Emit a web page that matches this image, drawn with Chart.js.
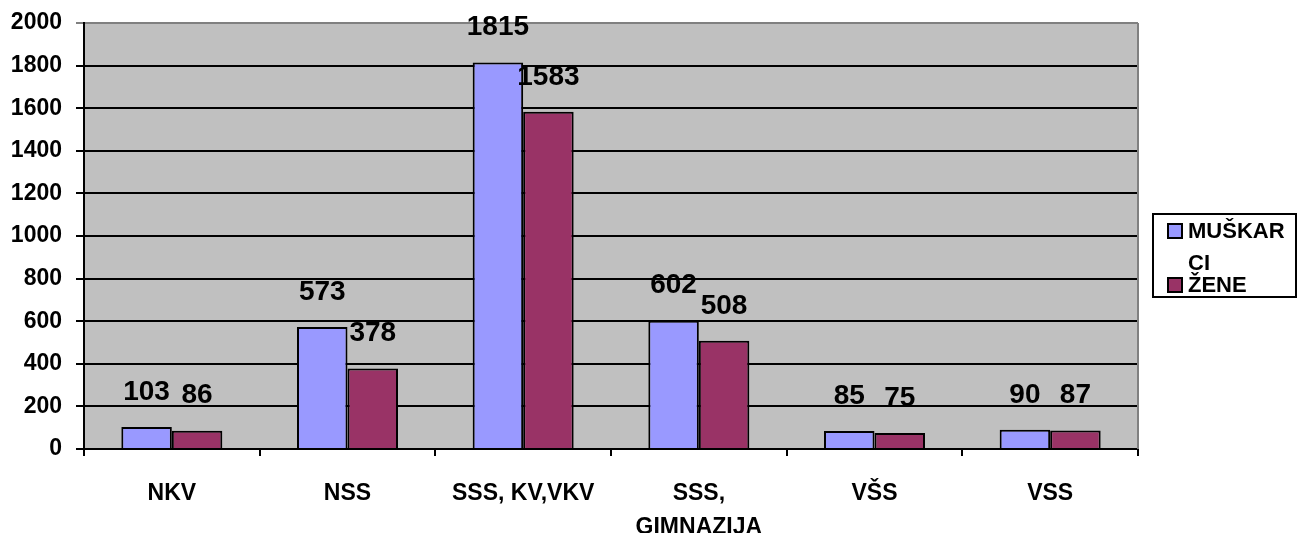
<!DOCTYPE html>
<html>
<head>
<meta charset="utf-8">
<script src="https://cdn.jsdelivr.net/npm/chart.js@4"></script>
<style>
    body { margin: 0; background: #fff; }
    #wrap { position: relative; width: 1307px; height: 533px; }
    #legend {
        position: absolute; left: 1152px; top: 213px; width: 145px; height: 85px;
        box-sizing: border-box; border: 2px solid #000; background: #fff;
        font-family: "Liberation Sans", Arial, sans-serif; font-weight: bold; font-size: 22px;
    }
    .item { position: absolute; left: 0; line-height: 32px; }
    .swatch { position: absolute; left: 13px; top: 8px; width: 16px; height: 16px; box-sizing: border-box; border: 2px solid #000; }
    .txt { position: absolute; left: 34px; width: 104px; word-break: break-all; }
</style>
</head>
<body>
<div id="wrap">
    <canvas id="chart" width="1307" height="533"></canvas>
    <div id="legend"></div>
</div>
<script>
const categories = ['NKV', 'NSS', 'SSS, KV,VKV', ['SSS,', 'GIMNAZIJA'], 'VŠS', 'VSS'];
const seriesNames = ['MUŠKARCI', 'ŽENE'];
const muskarci = [103, 573, 1815, 602, 85, 90];
const zene = [86, 378, 1583, 508, 75, 87];
const yTicksMax = 2000;
const yTicksStep = 200;

const colors = ['#9999FF', '#993366'];
const FONT = '"Liberation Sans", Arial, sans-serif';

// pozadina i okvir područja grafikona
const plotArea = {
    id: 'plotArea',
    beforeDraw(chart) {
        const { ctx, chartArea: a } = chart;
        ctx.save();
        ctx.fillStyle = '#C0C0C0';
        ctx.fillRect(a.left, a.top, a.right - a.left, a.bottom - a.top);
        ctx.restore();
    },
    afterDraw(chart) {
        const { ctx, chartArea: a } = chart;
        ctx.save();
        ctx.strokeStyle = '#808080';
        ctx.lineWidth = 2;
        ctx.beginPath();
        ctx.moveTo(a.right, a.top);
        ctx.lineTo(a.right, a.bottom);
        ctx.stroke();
        ctx.restore();
    }
};

// vrijednosti iznad stupaca
const valueLabels = {
    id: 'valueLabels',
    afterDatasetsDraw(chart) {
        const ctx = chart.ctx;
        ctx.save();
        ctx.font = 'bold 28px ' + FONT;
        ctx.fillStyle = '#000';
        ctx.textAlign = 'center';
        ctx.textBaseline = 'middle';
        chart.data.datasets.forEach((ds, i) => {
            chart.getDatasetMeta(i).data.forEach((bar, j) => {
                ctx.fillText(ds.data[j], bar.x, bar.y - 35);
            });
        });
        ctx.restore();
    }
};

const chart = new Chart(document.getElementById('chart'), {
    type: 'bar',
    data: {
        labels: categories,
        datasets: [
            { label: seriesNames[0], data: muskarci, backgroundColor: colors[0] },
            { label: seriesNames[1], data: zene, backgroundColor: colors[1] }
        ]
    },
    options: {
        responsive: false,
        animation: false,
        layout: { padding: { top: 23, right: 169, bottom: 0, left: 0 } },
        datasets: {
            bar: {
                categoryPercentage: 0.575,
                barPercentage: 1,
                borderColor: '#000',
                borderWidth: 2
            }
        },
        plugins: {
            legend: { display: false },
            tooltip: { enabled: false }
        },
        scales: {
            x: {
                afterFit: s => { s.height = 84; s.paddingLeft = 0; s.paddingRight = 0; },
                grid: { drawOnChartArea: false, color: '#000', lineWidth: 2, tickLength: 7 },
                border: { color: '#000', width: 2 },
                ticks: {
                    color: '#000', padding: 21,
                    font: { family: FONT, weight: 'bold', size: 23, lineHeight: 1.48 }
                }
            },
            y: {
                min: 0,
                max: yTicksMax,
                afterFit: s => { s.width = 84; s.paddingTop = 0; s.paddingBottom = 0; },
                grid: {
                    color: c => (c.tick && c.tick.value === yTicksMax ? '#808080' : '#000'),
                    lineWidth: 2,
                    tickLength: 8
                },
                border: { color: '#000', width: 2 },
                ticks: {
                    stepSize: yTicksStep, color: '#000', padding: 14,
                    callback: v => String(v),
                    font: { family: FONT, weight: 'bold', size: 23 }
                }
            }
        }
    },
    plugins: [plotArea, valueLabels]
});

// legenda
const legend = document.getElementById('legend');
const itemTops = [0, 54];
chart.data.datasets.forEach((ds, i) => {
    const item = document.createElement('div');
    item.className = 'item';
    item.style.top = itemTops[i] + 'px';
    item.innerHTML = `<span class="swatch" style="background:${ds.backgroundColor}"></span><span class="txt">${ds.label}</span>`;
    legend.appendChild(item);
});
</script>
</body>
</html>
